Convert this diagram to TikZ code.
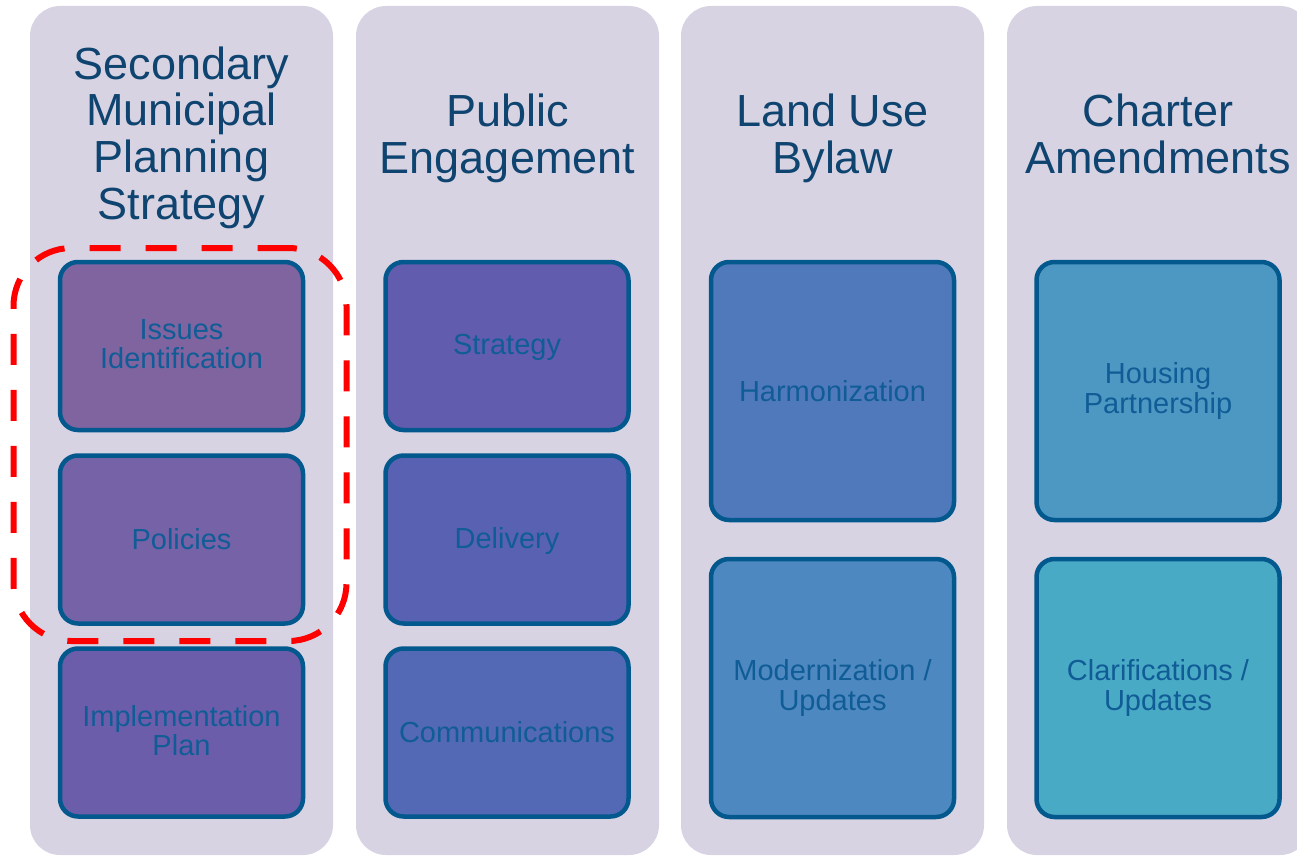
\documentclass[tikz,border=0pt]{standalone}
\usepackage{fontspec}
\setmainfont{Liberation Sans}
\definecolor{colbg}{HTML}{D8D3E3}
\definecolor{boxline}{HTML}{03598D}
\definecolor{itemtext}{HTML}{105C96}
\definecolor{titletext}{HTML}{0E446F}
\definecolor{fa}{HTML}{7F64A0}
\definecolor{fb}{HTML}{7662A6}
\definecolor{fc}{HTML}{6C5DAA}
\definecolor{fd}{HTML}{615CAE}
\definecolor{fe}{HTML}{5962B2}
\definecolor{ff}{HTML}{5469B5}
\definecolor{fg}{HTML}{5079BB}
\definecolor{fh}{HTML}{4E88C0}
\definecolor{fi}{HTML}{4D98C3}
\definecolor{fj}{HTML}{49AAC6}
\begin{document}
\begin{tikzpicture}[x=1pt,y=-1pt,
  colbox/.style={fill=colbg, draw=none, rounded corners=30pt, minimum width=303pt, minimum height=849pt, inner sep=0pt},
  title/.style={text=titletext, font=\fontsize{45}{47}\selectfont, align=center, inner sep=0pt,
    execute at begin node={\rule{0pt}{33pt}}, execute at end node={\rule[-10pt]{0pt}{10pt}}},
  item/.style={draw=boxline, line width=4.5pt, rounded corners=18pt, text=itemtext,
    font=\fontsize{29}{29.5}\selectfont, align=center, minimum width=243pt, inner sep=0pt,
    execute at begin node={\rule{0pt}{24pt}}, execute at end node={\rule[-4pt]{0pt}{4pt}}},
  small/.style={item, minimum height=168pt},
  tall/.style={item, minimum height=258pt},
  twolines/.style={execute at end node={\rule[-8pt]{0pt}{8pt}}},
  hilite/.style={draw=red, line width=6pt, dash pattern=on 31pt off 25pt, rounded corners=58pt,
    minimum width=333pt, minimum height=393pt, inner sep=0pt}
]
\useasboundingbox (0,0) rectangle (1297,856);
\clip (0,0) rectangle (1297,856);
% columns
\node[colbox] (c1) at (181.5,430.5) {};
\node[colbox] (c2) at (507.5,430.5) {};
\node[colbox] (c3) at (832.5,430.5) {};
\node[colbox] (c4) at (1158.5,430.5) {};
% titles
\node[title, font=\fontsize{45}{46.7}\selectfont] (t1) at (181.5,138) {Secondary\\Municipal\\Planning\\Strategy};
\node[title] (t2) at (507.5,139) {Public\\Engagement};
\node[title] (t3) at (832.5,139) {Land Use\\Bylaw};
\node[title] (t4) at (1158,139) {Charter\\Amendments};
% column 1
\node[small, fill=fa] (ii) at (181.5,346) {Issues\\Identification};
\node[small, fill=fb] (po) at (181.5,539.5) {Policies};
\node[small, fill=fc] (ip) at (181.5,732.5) {Implementation\\Plan};
% column 2
\node[small, fill=fd] (st) at (507,346) {Strategy};
\node[small, fill=fe] (de) at (507,539.5) {Delivery};
\node[small, fill=ff] (co) at (507,732.5) {Communications};
% column 3
\node[tall, fill=fg] (ha) at (832.5,391) {Harmonization};
\node[tall, fill=fh] (mo) at (832.5,688) {Modernization /\\Updates};
% column 4
\node[tall, fill=fi] (hp) at (1158,391) {Housing\\Partnership};
\node[tall, fill=fj] (cl) at (1158,688) {Clarifications /\\Updates};
% highlight
\node[hilite] (sel) at (180,444.5) {};
\end{tikzpicture}
\end{document}
